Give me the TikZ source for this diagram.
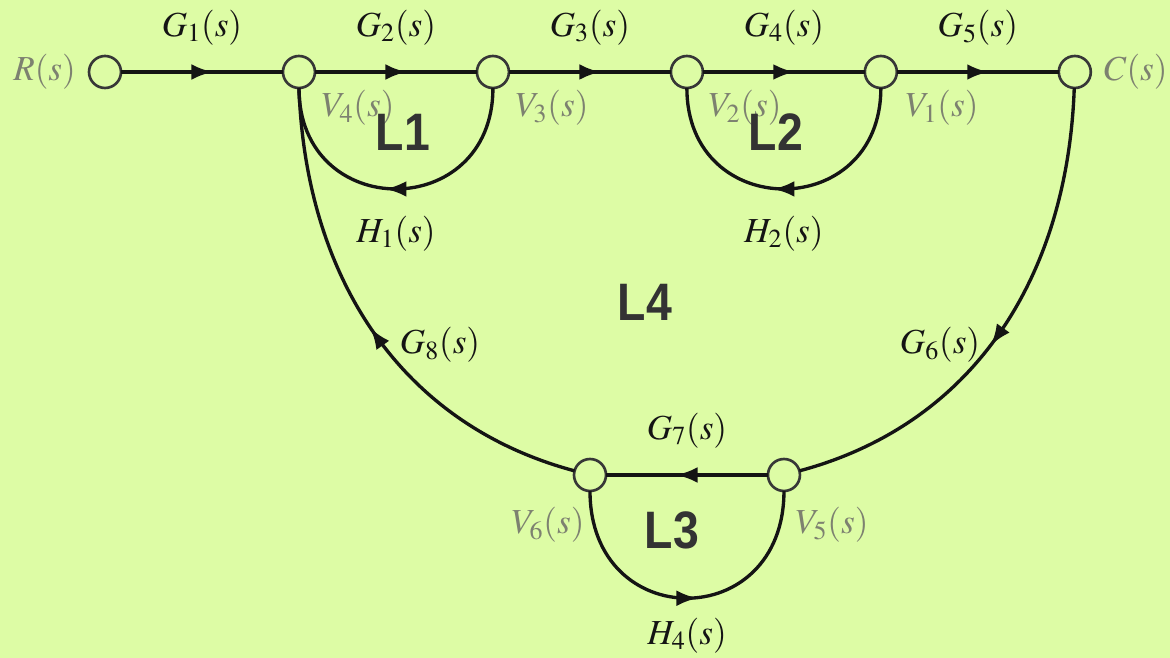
\documentclass[tikz,border=0pt]{standalone}
\usepackage{mathptmx}
\usepackage{fontspec}
\setmainfont{Liberation Serif}
\newfontfamily\loopfont{Liberation Sans}
\usetikzlibrary{positioning,arrows.meta,decorations.markings}
\definecolor{cback}{HTML}{DDFCA5}
\definecolor{cline}{HTML}{141414}
\definecolor{cvar}{HTML}{7D8170}
\definecolor{cloop}{HTML}{333333}
\tikzset{
  sfnode/.style={circle, draw=cline!85, fill=cback, line width=1.5pt,
    minimum size=0.64cm, inner sep=0pt, outer sep=0pt},
  branch/.style={line width=1.9pt, color=cline},
  midarrow/.style={postaction={decorate}, decoration={markings,
    mark=at position #1 with {\arrow[xshift=6pt]{Latex[length=12pt,width=9pt]}}}},
  midarrow/.default=0.5,
  gainlabel/.style={font=\fontsize{20}{24}\selectfont, text=cline},
  varlabel/.style={font=\fontsize{20}{24}\selectfont, text=cvar},
  looplabel/.style={font=\fontsize{30}{36}\selectfont\loopfont\bfseries, text=cloop}
}

\begin{document}
\begin{tikzpicture}[x=0.02cm, y=0.02cm, node distance=3.24cm]
  \useasboundingbox (0,0) rectangle (1170,-658);
  \fill[cback] (0,0) rectangle (1170,-658);

  % forward path
  \node[sfnode] (r) at (105,-72) {};
  \node[sfnode, right=of r] (v4) {};
  \node[sfnode, right=of v4] (v3) {};
  \node[sfnode, right=of v3] (v2) {};
  \node[sfnode, right=of v2] (v1) {};
  \node[sfnode, right=of v1] (c) {};
  % lower pair
  \node[sfnode] (v6) at (590,-475) {};
  \node[sfnode, right=of v6] (v5) {};

  \draw[branch, midarrow] (r) -- node[gainlabel, above=11pt] (g1) {$G_1(s)$} (v4);
  \draw[branch, midarrow] (v4) -- node[gainlabel, above=11pt] (g2) {$G_2(s)$} (v3);
  \draw[branch, midarrow] (v3) -- node[gainlabel, above=11pt] (g3) {$G_3(s)$} (v2);
  \draw[branch, midarrow] (v2) -- node[gainlabel, above=11pt] (g4) {$G_4(s)$} (v1);
  \draw[branch, midarrow] (v1) -- node[gainlabel, above=11pt] (g5) {$G_5(s)$} (c);

  % loops
  \draw[branch, midarrow] (v3.south) to[out=-90, in=-90, looseness=1.78]
    node[gainlabel, below=11pt] (h1) {$H_1(s)$} (v4.south);
  \draw[branch, midarrow] (v1.south) to[out=-90, in=-90, looseness=1.78]
    node[gainlabel, below=11pt] (h2) {$H_2(s)$} (v2.south);
  \draw[branch, midarrow] (v6.south) to[out=-90, in=-90, looseness=1.89]
    node[gainlabel, below=7pt] (h4) {$H_4(s)$} (v5.south);
  \draw[branch, midarrow] (v5) -- node[gainlabel, above=11pt] (g7) {$G_7(s)$} (v6);
  \draw[branch, midarrow=0.52] (c) to[out=-92, in=15, looseness=1.0] (v5);
  \draw[branch, midarrow=0.48] (v6) to[out=165, in=-88, looseness=1.0] (v4.south);

  \node[gainlabel] (g6) at (940,-345) {$G_6(s)$};
  \node[gainlabel] (g8) at (440,-345) {$G_8(s)$};

  % signal names
  \node[varlabel, left=4pt of r] (rs) {$R(s)$};
  \node[varlabel, right=4pt of c] (cs) {$C(s)$};
  \node[varlabel] (v4s) at (358,-108) {$V_4(s)$};
  \node[varlabel] (v3s) at (552,-108) {$V_3(s)$};
  \node[varlabel] (v2s) at (745,-108) {$V_2(s)$};
  \node[varlabel] (v1s) at (942,-108) {$V_1(s)$};
  \node[varlabel] (v6s) at (548,-525) {$V_6(s)$};
  \node[varlabel] (v5s) at (832,-525) {$V_5(s)$};

  % loop names
  \node[looplabel] (l1) at (403,-132) {\scalebox{0.88}[1]{L1}};
  \node[looplabel] (l2) at (776,-132) {\scalebox{0.88}[1]{L2}};
  \node[looplabel] (l4) at (645,-302) {\scalebox{0.88}[1]{L4}};
  \node[looplabel] (l3) at (672,-530) {\scalebox{0.88}[1]{L3}};
\end{tikzpicture}
\end{document}
